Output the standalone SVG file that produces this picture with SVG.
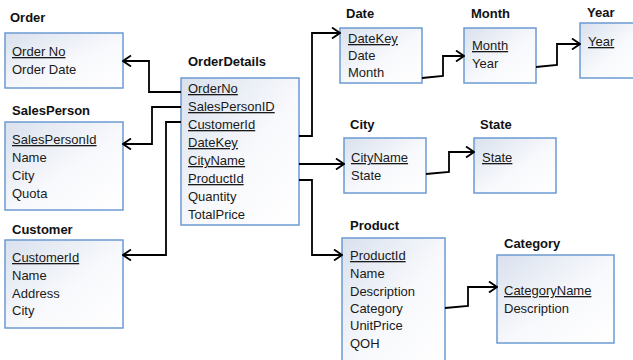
<svg xmlns="http://www.w3.org/2000/svg" width="633" height="360" viewBox="0 0 633 360">
<defs>
<linearGradient id="g" x1="0" y1="0" x2="1" y2="1">
<stop offset="0" stop-color="#d9e1ee"/>
<stop offset="0.55" stop-color="#f8f9fc"/>
<stop offset="1" stop-color="#ffffff"/>
</linearGradient>
<marker id="arr" viewBox="0 0 10 12" refX="9" refY="6" markerWidth="10" markerHeight="12" markerUnits="userSpaceOnUse" orient="auto">
<path d="M1,0.5 L9,6 L1,11.5" fill="none" stroke="#000" stroke-width="1.8"/>
</marker>
<style>
.box{fill:url(#g);stroke:#6b9bd2;stroke-width:1.5}
.t{font-family:"Liberation Sans",Arial,sans-serif;font-size:13px;font-weight:bold;fill:#111}
.r{font-family:"Liberation Sans",Arial,sans-serif;font-size:13px;fill:#1a1a1a}
.u{text-decoration:underline}
.c{fill:none;stroke:#000;stroke-width:1.8;marker-end:url(#arr)}
</style>
</defs>
<rect width="633" height="360" fill="#fff"/>
<g id="Order">
<text class="t" x="10" y="22">Order</text>
<rect class="box" x="5" y="33" width="118" height="55"/>
<text class="r u" x="12" y="56">Order No</text>
<text class="r" x="12" y="74">Order Date</text>
</g>
<g id="SalesPerson">
<text class="t" x="12" y="115">SalesPerson</text>
<rect class="box" x="5" y="122" width="118" height="88"/>
<text class="r u" x="12" y="144">SalesPersonId</text>
<text class="r" x="12" y="162">Name</text>
<text class="r" x="12" y="180">City</text>
<text class="r" x="12" y="198">Quota</text>
</g>
<g id="Customer">
<text class="t" x="12" y="234">Customer</text>
<rect class="box" x="5" y="240" width="118" height="88"/>
<text class="r u" x="12" y="262">CustomerId</text>
<text class="r" x="12" y="280">Name</text>
<text class="r" x="12" y="298">Address</text>
<text class="r" x="12" y="315">City</text>
</g>
<g id="OrderDetails">
<text class="t" x="188" y="66">OrderDetails</text>
<rect class="box" x="181" y="78" width="118" height="147"/>
<text class="r u" x="188" y="93">OrderNo</text>
<text class="r u" x="188" y="111">SalesPersonID</text>
<text class="r u" x="188" y="129">CustomerId</text>
<text class="r u" x="188" y="147">DateKey</text>
<text class="r u" x="188" y="165">CityName</text>
<text class="r u" x="188" y="183">ProductId</text>
<text class="r" x="188" y="201">Quantity</text>
<text class="r" x="188" y="219">TotalPrice</text>
</g>
<g id="Date">
<text class="t" x="346" y="18">Date</text>
<rect class="box" x="340" y="28" width="82" height="55"/>
<text class="r u" x="348" y="43">DateKey</text>
<text class="r" x="348" y="60">Date</text>
<text class="r" x="348" y="77">Month</text>
</g>
<g id="Month">
<text class="t" x="471" y="18">Month</text>
<rect class="box" x="464" y="28" width="72" height="55"/>
<text class="r u" x="472" y="50">Month</text>
<text class="r" x="472" y="68">Year</text>
</g>
<g id="Year">
<text class="t" x="587" y="17">Year</text>
<rect class="box" x="580" y="23" width="60" height="55"/>
<text class="r u" x="588" y="46">Year</text>
</g>
<g id="City">
<text class="t" x="350" y="129">City</text>
<rect class="box" x="344" y="138" width="82" height="55"/>
<text class="r u" x="351" y="162">CityName</text>
<text class="r" x="351" y="180">State</text>
</g>
<g id="State">
<text class="t" x="480" y="129">State</text>
<rect class="box" x="474" y="138" width="82" height="55"/>
<text class="r u" x="482" y="162">State</text>
</g>
<g id="Product">
<text class="t" x="350" y="230">Product</text>
<rect class="box" x="342" y="238" width="103" height="130"/>
<text class="r u" x="350" y="260">ProductId</text>
<text class="r" x="350" y="278">Name</text>
<text class="r" x="350" y="296">Description</text>
<text class="r" x="350" y="313">Category</text>
<text class="r" x="350" y="330">UnitPrice</text>
<text class="r" x="350" y="348">QOH</text>
</g>
<g id="Category">
<text class="t" x="504" y="248">Category</text>
<rect class="box" x="497" y="255" width="117" height="88"/>
<text class="r u" x="504" y="295">CategoryName</text>
<text class="r" x="504" y="313">Description</text>
</g>
<g id="connectors">
<path class="c" d="M181,92 H149 V61 H123"/>
<path class="c" d="M181,107 H152 V144 H123"/>
<path class="c" d="M181,122 H166 V255 H123"/>
<path class="c" d="M299,136 H312 V33 H340"/>
<path class="c" d="M299,164 H344"/>
<path class="c" d="M299,180 H312 V255 H342"/>
<path class="c" d="M422,78 L443,76 V56 H464"/>
<path class="c" d="M536,67 L557,65 V44 H580"/>
<path class="c" d="M426,174 L449,172 V152 H474"/>
<path class="c" d="M445,308 L468,306 V287 H497"/>
</g>
</svg>
